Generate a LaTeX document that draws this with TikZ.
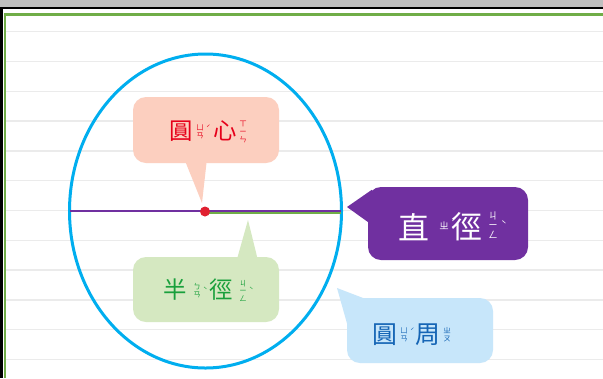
\documentclass[tikz,border=0pt]{standalone}
\usepackage{fontspec}
\newfontfamily\cjk{Noto Sans CJK TC}
\newfontfamily\zyfont[RawFeature=+vert]{Noto Sans CJK TC}
\usetikzlibrary{calc,shapes.geometric}
\definecolor{greybar}{HTML}{BFBFBF}
\definecolor{framegreen}{HTML}{70AD47}
\definecolor{rulegrey}{HTML}{EBEBEB}
\definecolor{circblue}{HTML}{00AEEF}
\definecolor{diampurple}{HTML}{7030A0}
\definecolor{dotred}{HTML}{E02030}
\definecolor{salmon}{HTML}{FCCFBF}
\definecolor{redtext}{HTML}{E6001A}
\definecolor{lightgreen}{HTML}{D5E8C1}
\definecolor{greentext}{HTML}{19A03C}
\definecolor{lightblue}{HTML}{C7E6FA}
\definecolor{bluetext}{HTML}{1565B5}
\begin{document}
\begin{tikzpicture}[x=1bp,y=-1bp,
  bubble/.style={rectangle, rounded corners=13bp, inner sep=0, draw=none},
  bigA/.style={font=\cjk\fontsize{23.5}{23.5}\selectfont, inner sep=0},
  bigB/.style={font=\cjk\fontsize{31}{31}\selectfont, inner sep=0},
  bigC/.style={font=\cjk\fontsize{25}{25}\selectfont, inner sep=0},
  zyA/.style={font=\zyfont\fontsize{7.5}{8}\selectfont, align=center, inner sep=0},
  zyB/.style={font=\zyfont\fontsize{9.5}{9.8}\selectfont, align=center, inner sep=0},
  toneA/.style={font=\zyfont\fontsize{7.5}{7.5}\selectfont, inner sep=0},
  toneB/.style={font=\zyfont\fontsize{9.5}{9.5}\selectfont, inner sep=0},
]
\useasboundingbox (0,0) rectangle (603,378);
\fill[white] (0,0) rectangle (603,378);
% window chrome
\fill[greybar] (0,0) rectangle (603,7);
\fill[black] (0,7) rectangle (603,9);
\fill[black] (0,7) rectangle (3,378);
% ruled lines
\foreach \k in {0,...,11}
  \draw[rulegrey, line width=1.5bp] (6,31.7+29.8*\k) -- (603,31.7+29.8*\k);
% green frame
\draw[framegreen, line width=2.6bp] (5,378) -- (5,14.3) -- (603,14.3);
% circle
\node[ellipse, draw=circblue, line width=3bp, minimum width=272bp, minimum height=314bp, inner sep=0] (circ) at (205.5,211) {};
% centre, radius and diameter
\coordinate (ctr) at (205,211.5);
\coordinate (dl) at (70,210.5);
\coordinate (dr) at (341,210.5);
\coordinate (rr) at (341,212.8);
\draw[framegreen, line width=1.6bp] (ctr |- rr) -- (rr);
\draw[diampurple, line width=2bp] (dl) -- (dr);
\node[circle, fill=dotred, minimum size=10bp, inner sep=0] (centre) at (ctr) {};
% bubble 1 : 圓心
\node[bubble, fill=salmon, minimum width=146bp, minimum height=66bp] (b1) at (206,130) {};
\coordinate (t1) at (202,203);
\fill[salmon] ([xshift=52bp,yshift=3bp]b1.south west) -- (t1) -- ([xshift=74bp,yshift=3bp]b1.south west) -- cycle;
\node[bigA, text=redtext] (c11) at (181,131) {圓};
\node[zyA, text=redtext] (z11) at (200,132) {ㄩ\\ㄢ};
\node[toneA, text=redtext] at (206,128) {ˊ};
\node[bigA, text=redtext] (c12) at (225,131) {心};
\node[zyA, text=redtext] (z12) at (243,132) {ㄒ\\ㄧ\\ㄣ};
% bubble 2 : 直徑
\node[bubble, fill=diampurple, minimum width=160bp, minimum height=73bp] (b2) at (448,223.5) {};
\coordinate (t2) at (347,207);
\fill[diampurple] ([xshift=4bp,yshift=-3bp]b2.north west) -- (t2) -- ([xshift=4bp,yshift=-38bp]b2.north west) -- cycle;
\node[bigB, text=white] (c21) at (414,227) {直};
\node[zyB, text=white] (z21) at (444,226) {ㄓ};
\node[toneB, text=white] at (451,222) {ˊ};
\node[bigB, text=white] (c22) at (467,227) {徑};
\node[zyB, text=white] (z22) at (493,225) {ㄐ\\ㄧ\\ㄥ};
\node[toneB, text=white] at (501,224) {ˋ};
% bubble 3 : 半徑
\node[bubble, fill=lightgreen, minimum width=146bp, minimum height=65bp] (b3) at (206,289.5) {};
\coordinate (t3) at (248,220);
\fill[lightgreen] ([xshift=104bp,yshift=-3bp]b3.north west) -- (t3) -- ([xshift=125bp,yshift=-3bp]b3.north west) -- cycle;
\node[bigA, text=greentext] (c31) at (175,290) {半};
\node[zyA, text=greentext] (z31) at (197,291) {ㄅ\\ㄢ};
\node[toneA, text=greentext] at (203,290) {ˋ};
\node[bigA, text=greentext] (c32) at (221,290) {徑};
\node[zyA, text=greentext] (z32) at (243,291) {ㄐ\\ㄧ\\ㄥ};
\node[toneA, text=greentext] at (249,290) {ˋ};
% bubble 4 : 圓周
\node[bubble, fill=lightblue, minimum width=146bp, minimum height=65bp] (b4) at (420,330.5) {};
\coordinate (t4) at (337,288);
\fill[lightblue] ([xshift=21bp,yshift=-2bp]b4.north west) -- (t4) -- ([xshift=2bp,yshift=-32bp]b4.north west) -- cycle;
\node[bigC, text=bluetext] (c41) at (385,335) {圓};
\node[zyA, text=bluetext] (z41) at (404,335) {ㄩ\\ㄢ};
\node[toneA, text=bluetext] at (410,331) {ˊ};
\node[bigC, text=bluetext] (c42) at (428,335) {周};
\node[zyA, text=bluetext] (z42) at (447,335) {ㄓ\\ㄡ};
\end{tikzpicture}
\end{document}
